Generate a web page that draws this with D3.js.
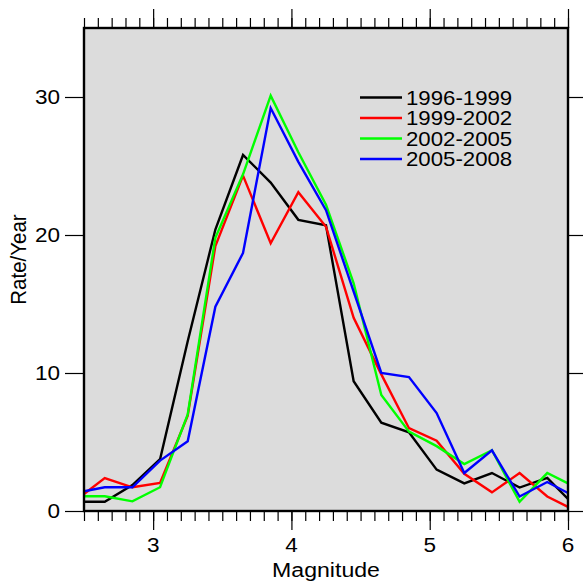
<style>body { margin: 0; } svg { display: block; }</style>
<svg width="583" height="583"></svg>

<script src="https://d3js.org/d3.v7.min.js"></script>
<script>
	// Magnitude bins (edges at 2.5 and 6.0 where the frame clips the lines)
	const magnitude = [2.5, 2.65, 2.85, 3.05, 3.25, 3.45, 3.65, 3.85, 4.05, 4.25, 4.45, 4.65, 4.85, 5.05, 5.25, 5.45, 5.65, 5.85, 6.0]

	// Rate per year for each period
	const r1996 = [0.67, 0.67, 1.88, 3.75, 12.3, 20.4, 25.8, 23.8, 21.1, 20.7, 9.4, 6.4, 5.7, 3.0, 2.0, 2.75, 1.7, 2.4, 0.87]
	const r1999 = [1.23, 2.39, 1.72, 2.03, 6.9, 19.2, 24.3, 19.4, 23.1, 20.6, 14.0, 9.9, 6.0, 5.1, 2.7, 1.35, 2.75, 1.05, 0.3]
	const r2002 = [1.07, 1.07, 0.7, 1.72, 7.0, 19.8, 24.4, 30.1, 26.0, 22.2, 16.5, 8.4, 5.75, 4.7, 3.4, 4.4, 0.67, 2.75, 2.0]
	const r2005 = [1.43, 1.72, 1.72, 3.65, 5.05, 14.8, 18.7, 29.2, 25.3, 21.8, 15.9, 10.0, 9.7, 7.1, 2.75, 4.4, 1.05, 2.1, 1.3]

	const periods = ["1996-1999", "1999-2002", "2002-2005", "2005-2008"]
	const colors = ["#000000", "#ff0000", "#00ff00", "#0000ff"]

	const xTicks = [3, 4, 5, 6]
	const yTicks = [0, 10, 20, 30]

	const series = [r1996, r1999, r2002, r2005].map((vals, i) => ({
		name: periods[i],
		color: colors[i],
		values: vals.map((v, j) => ({x: magnitude[j], y: v}))
	}))

	// plot box
	const x0 = 84, x1 = 568, y0 = 28, y1 = 511
	const font = "'Liberation Sans', Arial, sans-serif"

	const x = d3.scaleLinear().domain([2.5, 6]).range([x0, x1])
	const y = d3.scaleLinear().domain([0, 35]).range([y1, y0])

	const svg = d3.select("svg")
		.style("background", "#fff")
		.attr("font-family", font)

	// plot background
	svg.append("rect")
		.attr("x", x0).attr("y", y0)
		.attr("width", x1 - x0).attr("height", y1 - y0)
		.attr("fill", "#dcdcdc")

	svg.append("clipPath").attr("id", "clip")
		.append("rect")
		.attr("x", x0).attr("y", y0)
		.attr("width", x1 - x0).attr("height", y1 - y0)

	const line = d3.line().x(d => x(d.x)).y(d => y(d.y))

	svg.append("g").attr("clip-path", "url(#clip)")
		.selectAll("path")
		.data(series)
		.join("path")
			.attr("d", d => line(d.values))
			.attr("fill", "none")
			.attr("stroke", d => d.color)
			.attr("stroke-width", 2.4)
			.attr("stroke-linejoin", "miter")

	// axes: minor ticks every 0.1 on x, major at integers
	const minor = d3.range(25, 61).map(d => d / 10)
	const tickStyle = g => {
		g.select(".domain").remove()
		g.selectAll("line").attr("stroke", "#000").attr("stroke-width", 1.2)
		g.selectAll("text").remove()
	}

	svg.append("g").attr("transform", `translate(0,${y1})`)
		.call(d3.axisBottom(x).tickValues(minor).tickSize(10)).call(tickStyle)
	svg.append("g").attr("transform", `translate(0,${y1})`)
		.call(d3.axisBottom(x).tickValues(xTicks).tickSize(19)).call(tickStyle)
	svg.append("g").attr("transform", `translate(0,${y0})`)
		.call(d3.axisTop(x).tickValues(minor).tickSize(10)).call(tickStyle)
	svg.append("g").attr("transform", `translate(0,${y0})`)
		.call(d3.axisTop(x).tickValues(xTicks).tickSize(19)).call(tickStyle)
	svg.append("g").attr("transform", `translate(${x0},0)`)
		.call(d3.axisLeft(y).tickValues(yTicks).tickSize(19)).call(tickStyle)
	svg.append("g").attr("transform", `translate(${x1},0)`)
		.call(d3.axisRight(y).tickValues(yTicks).tickSize(19)).call(tickStyle)

	// frame
	svg.append("rect")
		.attr("x", x0).attr("y", y0)
		.attr("width", x1 - x0).attr("height", y1 - y0)
		.attr("fill", "none").attr("stroke", "#000").attr("stroke-width", 2.4)

	// stretched text helper (the picture is slightly wider than tall)
	const sx = 1.1
	const label = (tx, ty, txt, size, anchor) => svg.append("text")
		.attr("transform", `translate(${tx},${ty}) scale(${sx},1)`)
		.attr("text-anchor", anchor)
		.attr("font-size", size)
		.text(txt)

	xTicks.forEach(t => label(x(t), 552, t, 20.5, "middle"))
	yTicks.forEach(t => label(60, y(t) + 7, t, 20.5, "end"))

	label((x0 + x1) / 2, 577, "Magnitude", 21, "middle")

	svg.append("text")
		.attr("transform", `translate(26,${(y0 + y1) / 2 - 10}) rotate(-90) scale(1,${sx})`)
		.attr("text-anchor", "middle")
		.attr("font-size", 20.5)
		.text("Rate/Year")

	// legend
	const leg = svg.append("g")
	series.forEach((s, i) => {
		const ly = 97.5 + i * 20.5
		leg.append("line")
			.attr("x1", 360).attr("x2", 402)
			.attr("y1", ly).attr("y2", ly)
			.attr("stroke", s.color).attr("stroke-width", 2.4)
		leg.append("text")
			.attr("transform", `translate(406,${ly + 7}) scale(${sx},1)`)
			.attr("font-size", 20.2)
			.text(s.name)
	})
</script>
